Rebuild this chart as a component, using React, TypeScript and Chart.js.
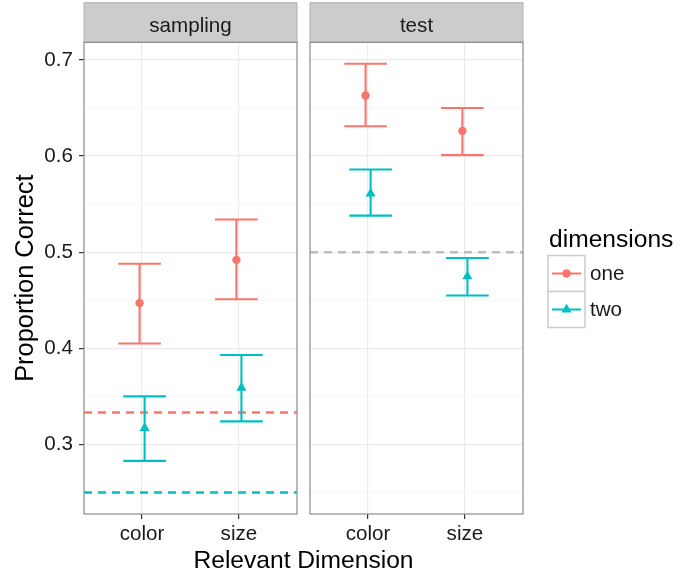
import React, { useEffect, useRef } from "react";
import { Chart, registerables } from "chart.js";

Chart.register(...registerables);

// ---------- data ----------
const categories = ["color", "size"];
const facetNames = ["sampling", "test"];
const seriesNames = ["one", "two"];

const samplingOneMean = [0.447, 0.492];
const samplingOneLow = [0.405, 0.451];
const samplingOneHigh = [0.488, 0.534];
const samplingTwoMean = [0.317, 0.359];
const samplingTwoLow = [0.283, 0.324];
const samplingTwoHigh = [0.350, 0.393];

const testOneMean = [0.663, 0.626];
const testOneLow = [0.631, 0.601];
const testOneHigh = [0.696, 0.650];
const testTwoMean = [0.561, 0.475];
const testTwoLow = [0.538, 0.455];
const testTwoHigh = [0.586, 0.494];

const samplingChance = [1 / 3, 0.25]; // one, two
const testChance = [0.5];

const majorTicks = [0.3, 0.4, 0.5, 0.6, 0.7];
const minorTicks = [0.25, 0.35, 0.45, 0.55, 0.65];

// ---------- style ----------
const RED = "#F8766D";
const TEAL = "#00BFC4";
const GREY_LINE = "#BEBEBE";
const FONT = '"Liberation Sans", Arial, Helvetica, sans-serif';
const SMALL = 20.6;
const BIG = 24.6;
const DODGE = 0.026;
const CAP_HALF = 0.22;

const catPos = categories.map((_, i) => i + 1);
const xMin = 1 - 0.6;
const xMax = categories.length + 0.6;

const allLow = [...samplingOneLow, ...samplingTwoLow, ...testOneLow, ...testTwoLow, ...samplingChance, ...testChance];
const allHigh = [...samplingOneHigh, ...samplingTwoHigh, ...testOneHigh, ...testTwoHigh, ...samplingChance, ...testChance];
const dataLo = Math.min(...allLow);
const dataHi = Math.max(...allHigh);
const yMin = dataLo - 0.05 * (dataHi - dataLo);
const yMax = dataHi + 0.05 * (dataHi - dataLo);

const isMajor = (v: number) => majorTicks.some((m) => Math.abs(m - v) < 1e-6);

function pointSet(label: string, means: number[], lows: number[], highs: number[], color: string, style: string, off: number) {
  return {
    type: "line" as const,
    label,
    data: means.map((m, i) => ({ x: catPos[i] + off, y: m })),
    showLine: false,
    pointStyle: style,
    pointRadius: style === "triangle" ? 5.8 : 4.2,
    pointBackgroundColor: color,
    pointBorderWidth: 0,
    borderColor: color,
    backgroundColor: color,
    errLow: lows,
    errHigh: highs,
  };
}

function hline(value: number, color: string) {
  return {
    type: "line" as const,
    label: "chance",
    data: [
      { x: xMin, y: value },
      { x: xMax, y: value },
    ],
    borderColor: color,
    borderWidth: 2.5,
    borderDash: [8, 6],
    pointRadius: 0,
    isHline: true,
  };
}

const errorBarPlugin = {
  id: "errorBars",
  afterDatasetsDraw(chart: any) {
    const { ctx, scales } = chart;
    const xs = scales.x;
    const ys = scales.y;
    chart.data.datasets.forEach((ds: any) => {
      if (!ds.errLow) return;
      ctx.save();
      ctx.strokeStyle = ds.borderColor;
      ctx.lineWidth = 2.1;
      ds.data.forEach((p: any, i: number) => {
        const px = xs.getPixelForValue(p.x);
        const lo = ys.getPixelForValue(ds.errLow[i]);
        const hi = ys.getPixelForValue(ds.errHigh[i]);
        const l = xs.getPixelForValue(p.x - CAP_HALF);
        const r = xs.getPixelForValue(p.x + CAP_HALF);
        ctx.beginPath();
        ctx.moveTo(px, lo);
        ctx.lineTo(px, hi);
        ctx.moveTo(l, lo);
        ctx.lineTo(r, lo);
        ctx.moveTo(l, hi);
        ctx.lineTo(r, hi);
        ctx.stroke();
      });
      ctx.restore();
    });
  },
};

const panelPlugin = {
  id: "panel",
  afterDraw(chart: any, _args: any, opts: any) {
    const { ctx, chartArea: a } = chart;
    ctx.save();
    const top = 2.7;
    ctx.fillStyle = "#CCCCCC";
    ctx.fillRect(a.left, top, a.right - a.left, a.top - top);
    ctx.strokeStyle = "#B0B0B0";
    ctx.lineWidth = 1;
    ctx.strokeRect(a.left, top, a.right - a.left, a.top - top);
    ctx.fillStyle = "#1A1A1A";
    ctx.font = `${SMALL}px ${FONT}`;
    ctx.textAlign = "center";
    ctx.textBaseline = "alphabetic";
    ctx.fillText(opts.label, (a.left + a.right) / 2, 31.7);
    ctx.strokeStyle = "#8C8C8C";
    ctx.lineWidth = 1.2;
    ctx.strokeRect(a.left, a.top, a.right - a.left, a.bottom - a.top);
    ctx.restore();
  },
};

const legendPlugin = {
  id: "customLegend",
  afterDraw(chart: any, _args: any, opts: any) {
    if (!opts.show) return;
    const { ctx } = chart;
    const x0 = opts.x;
    ctx.save();
    ctx.fillStyle = "#000";
    ctx.font = `${BIG}px ${FONT}`;
    ctx.textAlign = "left";
    ctx.textBaseline = "alphabetic";
    ctx.fillText("dimensions", x0 + 1, 247);
    const colors = [RED, TEAL];
    seriesNames.forEach((name, i) => {
      const by = 255.5 + i * 36;
      ctx.fillStyle = "#FFFFFF";
      ctx.fillRect(x0, by, 37, 36);
      ctx.strokeStyle = "#CFCFCF";
      ctx.lineWidth = 1.6;
      ctx.strokeRect(x0, by, 37, 36);
      const cy = by + 18;
      const cx = x0 + 18.5;
      ctx.strokeStyle = colors[i];
      ctx.lineWidth = 2;
      ctx.beginPath();
      ctx.moveTo(x0 + 4, cy);
      ctx.lineTo(x0 + 33, cy);
      ctx.stroke();
      ctx.fillStyle = colors[i];
      ctx.beginPath();
      if (i === 0) {
        ctx.arc(cx, cy, 4.2, 0, Math.PI * 2);
      } else {
        const r = 5.8;
        for (let k = 0; k < 3; k++) {
          const ang = (k * 2 * Math.PI) / 3;
          const px = cx + Math.sin(ang) * r;
          const py = cy - Math.cos(ang) * r;
          if (k === 0) ctx.moveTo(px, py);
          else ctx.lineTo(px, py);
        }
        ctx.closePath();
      }
      ctx.fill();
      ctx.fillStyle = "#1A1A1A";
      ctx.font = `${SMALL}px ${FONT}`;
      ctx.textBaseline = "middle";
      ctx.fillText(name, x0 + 42, cy + 1);
    });
    ctx.restore();
  },
};

function makeOptions(showY: boolean, yWidth: number, padRight: number, facet: string, legend: any) {
  return {
    responsive: true,
    maintainAspectRatio: false,
    animation: false as const,
    layout: { padding: { top: 42.3, right: padRight, bottom: 0, left: 0 } },
    plugins: {
      legend: { display: false },
      tooltip: { enabled: false },
      panel: { label: facet },
      customLegend: legend,
    },
    scales: {
      x: {
        type: "linear" as const,
        min: xMin,
        max: xMax,
        afterBuildTicks: (s: any) => {
          s.ticks = catPos.map((v) => ({ value: v }));
        },
        afterFit: (s: any) => {
          s.height = 61;
        },
        ticks: {
          autoSkip: false,
          maxRotation: 0,
          padding: 3,
          color: "#1A1A1A",
          font: { family: FONT, size: SMALL },
          callback: (v: any) => categories[Math.round(v) - 1] ?? "",
        },
        grid: {
          color: "#EBEBEB",
          lineWidth: 1.2,
          tickColor: "#333",
          tickLength: 5,
          tickWidth: 1.2,
        },
        border: { display: false },
      },
      y: {
        type: "linear" as const,
        min: yMin,
        max: yMax,
        afterBuildTicks: (s: any) => {
          s.ticks = [...majorTicks, ...minorTicks].sort((a, b) => a - b).map((v) => ({ value: v }));
        },
        afterFit: (s: any) => {
          s.width = yWidth;
        },
        ticks: {
          display: showY,
          autoSkip: false,
          padding: 6,
          color: "#1A1A1A",
          font: { family: FONT, size: SMALL },
          callback: (v: any) => (isMajor(v) ? Number(v).toFixed(1) : ""),
        },
        grid: {
          color: (c: any) => (c.tick && isMajor(c.tick.value) ? "#EBEBEB" : "#F5F5F5"),
          lineWidth: (c: any) => (c.tick && isMajor(c.tick.value) ? 1.2 : 0.8),
          drawTicks: showY,
          tickColor: (c: any) => (c.tick && isMajor(c.tick.value) ? "#333" : "rgba(0,0,0,0)"),
          tickLength: 5,
          tickWidth: 1.2,
        },
        border: { display: false },
        title: {
          display: showY,
          text: "Proportion Correct",
          color: "#000",
          font: { family: FONT, size: 25.4 },
          padding: { top: 11, bottom: 0 },
        },
      },
    },
  };
}

function FacetChart(props: { datasets: any[]; showY: boolean; yWidth: number; padRight: number; facet: string; legend: any }) {
  const ref = useRef<HTMLCanvasElement | null>(null);
  useEffect(() => {
    if (!ref.current) return;
    const chart = new Chart(ref.current, {
      type: "line",
      data: { datasets: props.datasets as any },
      options: makeOptions(props.showY, props.yWidth, props.padRight, props.facet, props.legend) as any,
      plugins: [errorBarPlugin, panelPlugin, legendPlugin],
    });
    return () => chart.destroy();
  }, []);
  return <canvas ref={ref} />;
}

export default function App() {
  const leftSets = [
    hline(samplingChance[0], RED),
    hline(samplingChance[1], TEAL),
    pointSet(seriesNames[0], samplingOneMean, samplingOneLow, samplingOneHigh, RED, "circle", -DODGE),
    pointSet(seriesNames[1], samplingTwoMean, samplingTwoLow, samplingTwoHigh, TEAL, "triangle", DODGE),
  ];
  const rightSets = [
    hline(testChance[0], GREY_LINE),
    pointSet(seriesNames[0], testOneMean, testOneLow, testOneHigh, RED, "circle", -DODGE),
    pointSet(seriesNames[1], testTwoMean, testTwoLow, testTwoHigh, TEAL, "triangle", DODGE),
  ];
  return (
    <div style={{ position: "absolute", left: 0, top: 0, width: 688, height: 575, background: "#fff", overflow: "hidden" }}>
      <div style={{ position: "absolute", left: 0, top: 0, width: 305, height: 575 }}>
        <FacetChart datasets={leftSets} showY={true} yWidth={84} padRight={8} facet={facetNames[0]} legend={{ show: false }} />
      </div>
      <div style={{ position: "absolute", left: 300, top: 0, width: 388, height: 575 }}>
        <FacetChart datasets={rightSets} showY={false} yWidth={10} padRight={165} facet={facetNames[1]} legend={{ show: true, x: 248 }} />
      </div>
      <div
        style={{
          position: "absolute",
          left: 0,
          width: 607,
          top: 547.5,
          textAlign: "center",
          fontFamily: FONT,
          fontSize: BIG,
          lineHeight: "24px",
          color: "#000",
          whiteSpace: "nowrap",
        }}
      >
        Relevant Dimension
      </div>
    </div>
  );
}
